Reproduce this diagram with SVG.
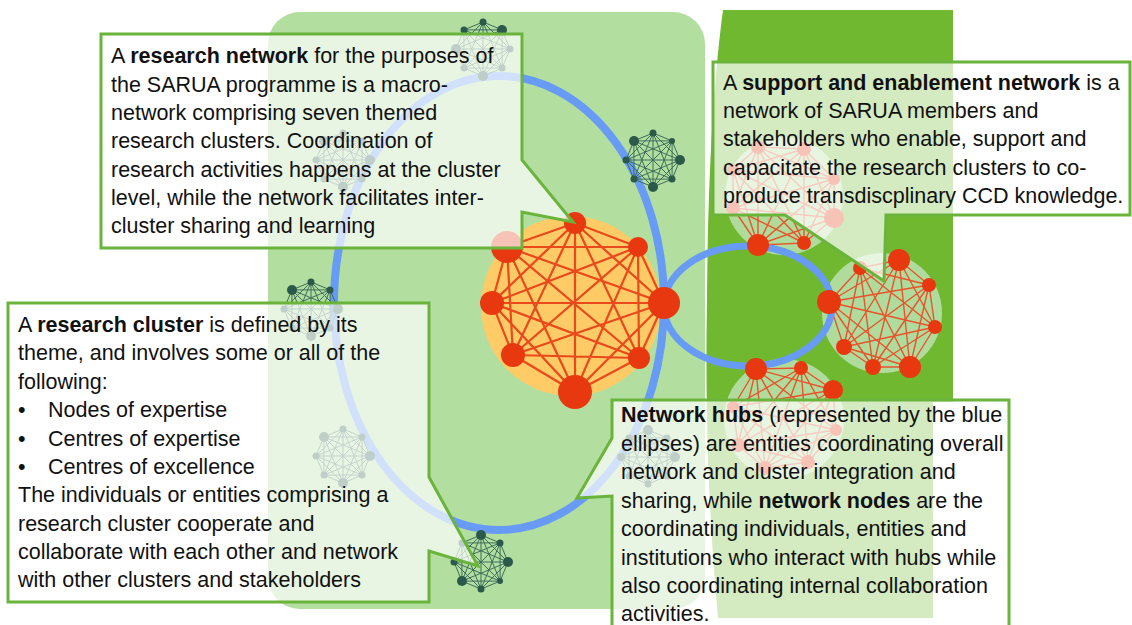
<svg xmlns="http://www.w3.org/2000/svg" xmlns:xlink="http://www.w3.org/1999/xlink" width="1132" height="625" viewBox="0 0 1132 625">
<style>
.t{font-family:"Liberation Sans",Arial,sans-serif;font-size:21.5px;fill:#111}
.b{font-weight:bold}
.co{fill:#ffffff;fill-opacity:0.7;stroke:#6bb43c;stroke-width:3;stroke-linejoin:miter}
.hub{fill:none;stroke:#679bf5}
.rl{fill:none;stroke:#e9491b;stroke-width:2.2}
.rl2{fill:none;stroke:#e8532c;stroke-width:1.4}
.rn{fill:#e8380f}
.cc{fill:#afdc9c}
.dl{fill:none;stroke:#3d6d5a;stroke-width:1}
.dn{fill:#2c5a4a}
</style>
<defs>
<g id="dnl">
<path class="dl" d="M0,-27L19.1,-19.1M0,-27L27,0M0,-27L19.1,19.1M0,-27L0,27M0,-27L-19.1,19.1M0,-27L-27,0M0,-27L-19.1,-19.1M19.1,-19.1L27,0M19.1,-19.1L19.1,19.1M19.1,-19.1L0,27M19.1,-19.1L-19.1,19.1M19.1,-19.1L-27,0M19.1,-19.1L-19.1,-19.1M27,0L19.1,19.1M27,0L0,27M27,0L-19.1,19.1M27,0L-27,0M27,0L-19.1,-19.1M19.1,19.1L0,27M19.1,19.1L-19.1,19.1M19.1,19.1L-27,0M19.1,19.1L-19.1,-19.1M0,27L-19.1,19.1M0,27L-27,0M0,27L-19.1,-19.1M-19.1,19.1L-27,0M-19.1,19.1L-19.1,-19.1M-27,0L-19.1,-19.1"/>
</g>
</defs>

<g id="background">
<rect x="268" y="12" width="437" height="597" rx="32" fill="#b2dea0"/>
<path d="M723,10 L953,10 L953,402 L933,402 L933,618 L718,618 C709,520 705,420 707,300 C708,160 715,70 723,10 Z" fill="#70b830"/>
</g>

<g id="cluster-central">
<circle cx="571" cy="306" r="90" fill="#ffcb66"/>
<path class="rl" d="M575,223L638,247M575,223L664,303M575,223L639,358M575,223L575,392M575,223L513,355M575,223L492,303M575,223L507,247M638,247L664,303M638,247L639,358M638,247L575,392M638,247L513,355M638,247L492,303M638,247L507,247M664,303L639,358M664,303L575,392M664,303L513,355M664,303L492,303M664,303L507,247M639,358L575,392M639,358L513,355M639,358L492,303M639,358L507,247M575,392L513,355M575,392L492,303M575,392L507,247M513,355L492,303M513,355L507,247M492,303L507,247"/>
</g>

<g id="cluster-top-right">
<circle class="cc" cx="784" cy="196" r="59"/>
<path class="rl2" d="M758,245L733,208M758,245L733,170M758,245L758,147M758,245L804,149M758,245L834,179M758,245L834,218M758,245L804,243M733,208L733,170M733,208L758,147M733,208L804,149M733,208L834,179M733,208L834,218M733,208L804,243M733,170L758,147M733,170L804,149M733,170L834,179M733,170L834,218M733,170L804,243M758,147L804,149M758,147L834,179M758,147L834,218M758,147L804,243M804,149L834,179M804,149L834,218M804,149L804,243M834,179L834,218M834,179L804,243M834,218L804,243"/>
</g>

<g id="cluster-mid-right">
<circle class="cc" cx="882" cy="313" r="60"/>
<path class="rl2" d="M829,302L860,268M829,302L899,260M829,302L929,285M829,302L935,327M829,302L910,367M829,302L873,367M829,302L844,347M860,268L899,260M860,268L929,285M860,268L935,327M860,268L910,367M860,268L873,367M860,268L844,347M899,260L929,285M899,260L935,327M899,260L910,367M899,260L873,367M899,260L844,347M929,285L935,327M929,285L910,367M929,285L873,367M929,285L844,347M935,327L910,367M935,327L873,367M935,327L844,347M910,367L873,367M910,367L844,347M873,367L844,347"/>
</g>

<g id="cluster-bottom-right">
<circle class="cc" cx="784" cy="419" r="60"/>
<path class="rl2" d="M756,369L801,368M756,369L833,390M756,369L836,430M756,369L808,462M756,369L765,468M756,369L738,445M756,369L733,407M801,368L833,390M801,368L836,430M801,368L808,462M801,368L765,468M801,368L738,445M801,368L733,407M833,390L836,430M833,390L808,462M833,390L765,468M833,390L738,445M833,390L733,407M836,430L808,462M836,430L765,468M836,430L738,445M836,430L733,407M808,462L765,468M808,462L738,445M808,462L733,407M765,468L738,445M765,468L733,407M738,445L733,407"/>
</g>

<g id="connectors">
<ellipse class="hub" cx="499" cy="303" rx="165" ry="227" stroke-width="8"/>
<ellipse class="hub" cx="748" cy="306" rx="84" ry="60" stroke-width="7"/>
</g>

<g id="cluster-nodes">
<circle class="rn" cx="575" cy="223" r="11"/>
<circle class="rn" cx="638" cy="247" r="10"/>
<circle class="rn" cx="664" cy="303" r="16"/>
<circle class="rn" cx="639" cy="358" r="11"/>
<circle class="rn" cx="575" cy="392" r="17"/>
<circle class="rn" cx="513" cy="355" r="12"/>
<circle class="rn" cx="492" cy="303" r="12"/>
<circle class="rn" cx="507" cy="247" r="16"/>

<circle class="rn" cx="758" cy="245" r="11"/>
<circle class="rn" cx="733" cy="208" r="7"/>
<circle class="rn" cx="733" cy="170" r="6"/>
<circle class="rn" cx="758" cy="147" r="7"/>
<circle class="rn" cx="804" cy="149" r="7"/>
<circle class="rn" cx="834" cy="179" r="6"/>
<circle class="rn" cx="834" cy="218" r="10"/>
<circle class="rn" cx="804" cy="243" r="7"/>

<circle class="rn" cx="829" cy="302" r="12"/>
<circle class="rn" cx="860" cy="268" r="7"/>
<circle class="rn" cx="899" cy="260" r="11"/>
<circle class="rn" cx="929" cy="285" r="7"/>
<circle class="rn" cx="935" cy="327" r="7"/>
<circle class="rn" cx="910" cy="367" r="11"/>
<circle class="rn" cx="873" cy="367" r="8"/>
<circle class="rn" cx="844" cy="347" r="8"/>

<circle class="rn" cx="756" cy="369" r="11"/>
<circle class="rn" cx="801" cy="368" r="7"/>
<circle class="rn" cx="833" cy="390" r="10"/>
<circle class="rn" cx="836" cy="430" r="6"/>
<circle class="rn" cx="808" cy="462" r="7"/>
<circle class="rn" cx="765" cy="468" r="7"/>
<circle class="rn" cx="738" cy="445" r="7"/>
<circle class="rn" cx="733" cy="407" r="6"/>
</g>

<g id="net-top">
<use xlink:href="#dnl" href="#dnl" x="483" y="49"/>
<circle class="dn" cx="483" cy="22" r="3.5"/><circle class="dn" cx="502" cy="30" r="5"/><circle class="dn" cx="510" cy="49" r="3.5"/><circle class="dn" cx="502" cy="68" r="3.5"/><circle class="dn" cx="483" cy="76" r="5"/><circle class="dn" cx="464" cy="68" r="3.5"/><circle class="dn" cx="456" cy="49" r="5"/><circle class="dn" cx="464" cy="30" r="3.5"/>
</g>
<g id="net-right">
<use xlink:href="#dnl" href="#dnl" x="653" y="160"/>
<circle class="dn" cx="653" cy="133" r="3.5"/><circle class="dn" cx="672" cy="141" r="3"/><circle class="dn" cx="680" cy="160" r="5"/><circle class="dn" cx="672" cy="179" r="3.5"/><circle class="dn" cx="653" cy="187" r="5"/><circle class="dn" cx="634" cy="179" r="3.5"/><circle class="dn" cx="626" cy="160" r="3.5"/><circle class="dn" cx="634" cy="141" r="5"/>
</g>
<g id="net-left">
<use xlink:href="#dnl" href="#dnl" x="311" y="309"/>
<circle class="dn" cx="311" cy="282" r="3.5"/><circle class="dn" cx="330" cy="290" r="3.5"/><circle class="dn" cx="338" cy="309" r="5"/><circle class="dn" cx="330" cy="328" r="3.5"/><circle class="dn" cx="311" cy="336" r="5"/><circle class="dn" cx="292" cy="328" r="3.5"/><circle class="dn" cx="284" cy="309" r="3.5"/><circle class="dn" cx="292" cy="290" r="5"/>
</g>
<g id="net-faded-1">
<use xlink:href="#dnl" href="#dnl" x="343" y="160"/>
<circle class="dn" cx="343" cy="133" r="3.5"/><circle class="dn" cx="362" cy="141" r="3.5"/><circle class="dn" cx="370" cy="160" r="5"/><circle class="dn" cx="362" cy="179" r="3.5"/><circle class="dn" cx="343" cy="187" r="5"/><circle class="dn" cx="324" cy="179" r="3.5"/><circle class="dn" cx="316" cy="160" r="3.5"/><circle class="dn" cx="324" cy="141" r="5"/>
</g>
<g id="net-faded-2">
<use xlink:href="#dnl" href="#dnl" x="343" y="456"/>
<circle class="dn" cx="343" cy="429" r="3.5"/><circle class="dn" cx="362" cy="437" r="3.5"/><circle class="dn" cx="370" cy="456" r="5"/><circle class="dn" cx="362" cy="475" r="3.5"/><circle class="dn" cx="343" cy="483" r="5"/><circle class="dn" cx="324" cy="475" r="3.5"/><circle class="dn" cx="316" cy="456" r="3.5"/><circle class="dn" cx="324" cy="437" r="5"/>
</g>
<g id="net-bottom">
<use xlink:href="#dnl" href="#dnl" x="481" y="562"/>
<circle class="dn" cx="481" cy="535" r="5"/><circle class="dn" cx="500" cy="543" r="3.5"/><circle class="dn" cx="508" cy="562" r="5"/><circle class="dn" cx="500" cy="581" r="3"/><circle class="dn" cx="481" cy="589" r="3.5"/><circle class="dn" cx="462" cy="581" r="5"/><circle class="dn" cx="454" cy="562" r="3.5"/><circle class="dn" cx="462" cy="543" r="3.5"/>
</g>
<g id="net-faded-3">
<use xlink:href="#dnl" href="#dnl" x="648" y="457"/>
<circle class="dn" cx="648" cy="430" r="5"/><circle class="dn" cx="667" cy="438" r="3.5"/><circle class="dn" cx="675" cy="457" r="5"/><circle class="dn" cx="667" cy="476" r="3.5"/><circle class="dn" cx="648" cy="484" r="3.5"/><circle class="dn" cx="629" cy="476" r="3.5"/><circle class="dn" cx="621" cy="457" r="4"/><circle class="dn" cx="629" cy="438" r="3.5"/>
</g>

<g id="callout-research-network">
<path class="co" d="M101,34 H522 V160 L573,222 L522,212 V248 H101 Z"/>
<text class="t" x="111" y="63"><tspan>A </tspan><tspan class="b">research network</tspan><tspan> for the purposes of</tspan></text>
<text class="t" x="111" y="91.5">the SARUA programme is a macro-</text>
<text class="t" x="111" y="120">network comprising seven themed</text>
<text class="t" x="111" y="148.3">research clusters. Coordination of</text>
<text class="t" x="111" y="176.7">research activities happens at the cluster</text>
<text class="t" x="111" y="205">level, while the network facilitates inter-</text>
<text class="t" x="111" y="233.3">cluster sharing and learning</text>
</g>

<g id="callout-support-network">
<path class="co" d="M713,62 H1130 V215 H886 L884,281 L785,215 H713 Z"/>
<text class="t" x="723" y="89.5"><tspan>A </tspan><tspan class="b">support and enablement network</tspan><tspan> is a</tspan></text>
<text class="t" x="723" y="117.8">network of SARUA members and</text>
<text class="t" x="723" y="146.2">stakeholders who enable, support and</text>
<text class="t" x="723" y="174.5">capacitate the research clusters to co-</text>
<text class="t" x="723" y="202.8">produce transdiscplinary CCD knowledge.</text>
</g>

<g id="callout-research-cluster">
<path class="co" d="M8,303 H429 V477 L478,566 L429,551 V602 H8 Z"/>
<text class="t" x="18" y="331.5"><tspan>A </tspan><tspan class="b">research cluster</tspan><tspan> is defined by its</tspan></text>
<text class="t" x="18" y="360">theme, and involves some or all of the</text>
<text class="t" x="18" y="388.5">following:</text>
<text class="t" x="18" y="417">•</text><text class="t" x="48" y="417">Nodes of expertise</text>
<text class="t" x="18" y="445.5">•</text><text class="t" x="48" y="445.5">Centres of expertise</text>
<text class="t" x="18" y="473.5">•</text><text class="t" x="48" y="473.5">Centres of excellence</text>
<text class="t" x="18" y="502">The individuals or entities comprising a</text>
<text class="t" x="18" y="530.5">research cluster cooperate and</text>
<text class="t" x="18" y="558.5">collaborate with each other and network</text>
<text class="t" x="18" y="587">with other clusters and stakeholders</text>
</g>

<g id="callout-network-hubs">
<path class="co" d="M612,400 H1009 V632 H612 V496 L577,498 L612,438 Z"/>
<text class="t" x="621" y="422.3"><tspan class="b">Network hubs</tspan><tspan> (represented by the blue</tspan></text>
<text class="t" x="621" y="450.7">ellipses) are entities coordinating overall</text>
<text class="t" x="621" y="479.2">network and cluster integration and</text>
<text class="t" x="621" y="507.8"><tspan>sharing, while </tspan><tspan class="b">network nodes</tspan><tspan> are the</tspan></text>
<text class="t" x="621" y="536.3">coordinating individuals, entities and</text>
<text class="t" x="621" y="564.8">institutions who interact with hubs while</text>
<text class="t" x="621" y="593.2">also coordinating internal collaboration</text>
<text class="t" x="621" y="621">activities.</text>
</g>
</svg>
